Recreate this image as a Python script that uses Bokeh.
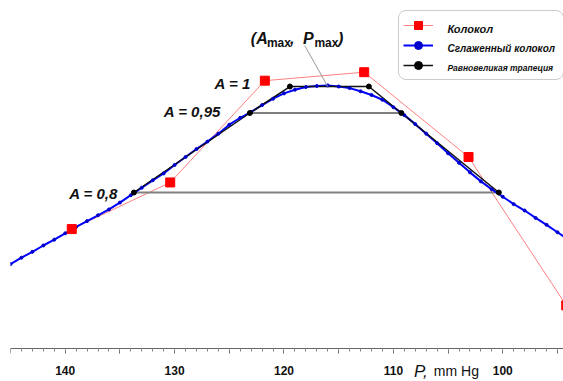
from bokeh.plotting import figure
from bokeh.models import FixedTicker, Label, Range1d
from bokeh.embed import file_html
from bokeh.resources import INLINE

# --- data (P in mm Hg, A relative amplitude) ---
bell_p = [139.4, 130.4, 121.75, 112.67, 103.13, 94.2]
bell_a = [0.731, 0.819, 1.011, 1.027, 0.867, 0.587]

smooth_p = [145, 144, 143, 142, 141, 140, 139, 138, 137, 136, 135, 134, 133,
            132, 131, 130, 129, 128, 127, 126, 125, 124, 123, 122, 121, 120,
            119, 118, 117, 116, 115, 114, 113, 112, 111, 110, 109, 108, 107,
            106, 105, 104, 103, 102, 101, 100, 99, 98, 97, 96, 95, 94]
smooth_a = [0.665, 0.677, 0.688, 0.700, 0.711, 0.723, 0.735, 0.746, 0.757,
            0.768, 0.781, 0.795, 0.809, 0.823, 0.836, 0.852, 0.867, 0.882,
            0.896, 0.911, 0.928, 0.941, 0.952, 0.965, 0.977, 0.987, 0.994,
            0.999, 1.001, 1.002, 1.000, 0.997, 0.991, 0.984, 0.975, 0.961,
            0.946, 0.929, 0.911, 0.893, 0.874, 0.856, 0.838, 0.821, 0.806,
            0.792, 0.778, 0.766, 0.752, 0.739, 0.725, 0.711]

trap_p = [133.72, 123.12, 119.46, 112.24, 109.27, 100.36]
trap_a = [0.80, 0.95, 1.00, 1.00, 0.95, 0.80]

peak_p = 116.0
peak_a = 1.0

axis_level = 0.5057

major_ticks = [145, 140, 135, 130, 125, 120, 115, 110, 105, 100, 95]
minor_ticks = list(range(94, 146))
tick_labels = {145: "", 140: "140", 135: "", 130: "130", 125: "", 120: "120",
               115: "", 110: "110", 105: "", 100: "100", 95: ""}

legend_names = ["Колокол", "Сглаженный колокол", "Равновеликая трапеция"]

FONT = "Liberation Sans"

p = figure(width=563, height=381,
           x_range=Range1d(145, 94.45), y_range=Range1d(0.4434, 1.1434),
           output_backend="svg", toolbar_location=None,
           min_border_left=10, min_border_right=0, min_border_top=10,
           min_border_bottom=0, y_axis_location=None)
p.xgrid.visible = False
p.ygrid.visible = False
p.outline_line_color = None
p.background_fill_color = "white"
p.border_fill_color = "white"

ax = p.xaxis[0]
ax.fixed_location = axis_level
ax.ticker = FixedTicker(ticks=major_ticks, minor_ticks=minor_ticks)
ax.major_label_overrides = tick_labels
ax.axis_line_color = "#666666"
ax.major_tick_line_color = "#666666"
ax.minor_tick_line_color = "#888888"
ax.major_tick_in = 0
ax.major_tick_out = 5
ax.minor_tick_in = 0
ax.minor_tick_out = 3
ax.major_label_standoff = 13
ax.major_label_text_font = FONT
ax.major_label_text_font_style = "bold"
ax.major_label_text_font_size = "12px"
ax.major_label_text_color = "#111111"

# red "bell"
p.line(bell_p, bell_a, line_color="#ff8080", line_width=1,
       legend_label=legend_names[0])

# level lines of the trapezoid
p.segment(x0=[trap_p[1], trap_p[0]], y0=[trap_a[1], trap_a[0]],
          x1=[trap_p[4], trap_p[5]], y1=[trap_a[4], trap_a[5]],
          line_color=["#000000", "#808080"], line_width=[1.2, 2])

# smoothed bell
p.line(smooth_p, smooth_a, line_color="#0000ff", line_width=2,
       legend_label=legend_names[1])

# trapezoid
p.line(trap_p, trap_a, line_color="#111111", line_width=1.5,
       legend_label=legend_names[2])
p.scatter(smooth_p, smooth_a, marker="circle", size=3, fill_color="#0000cc",
          line_color="#0000cc", legend_label=legend_names[1])
p.scatter(trap_p, trap_a, marker="circle", size=5, fill_color="#000000",
          line_color="#000000", legend_label=legend_names[2])
p.scatter(bell_p, bell_a, marker="square", size=9, fill_color="#ff0000",
          line_color="#ff0000", legend_label=legend_names[0])

# leader line to the maximum
p.segment(x0=[118.1], y0=[1.077], x1=[peak_p], y1=[peak_a],
          line_color="#999999", line_width=1)

# legend box (texts are drawn below as labels, each with its own size)
lg = p.legend[0]
lg.location = (388, 301)
lg.label_text_font = FONT
lg.label_text_font_size = "1px"
lg.label_text_alpha = 0.0
lg.label_width = 112
lg.glyph_width = 30
lg.glyph_height = 20
lg.label_height = 20
lg.label_standoff = 14
lg.spacing = 0
lg.padding = 4
lg.margin = 0
lg.border_line_color = "#999999"
lg.border_line_width = 1
lg.background_fill_alpha = 0.0
lg.border_radius = 8

def lab(x, y, text, size="15px", style="bold italic", align="left",
        baseline="middle"):
    p.add_layout(Label(x=x, y=y, text=text, text_font=FONT,
                       text_font_style=style, text_font_size=size,
                       text_align=align, text_baseline=baseline,
                       text_color="#111111"))

lab(105.06, 1.1094, legend_names[0], size="11px")
lab(105.06, 1.0717, legend_names[1], size="10px")
lab(105.06, 1.0340, legend_names[2], size="8.5px")

lab(123.03, 1.005, "A = 1", align="right")
lab(125.77, 0.953, "A = 0,95", align="right")
lab(135.18, 0.799, "A = 0,8", align="right")

# (Amax, Pmax)
lab(123.03, 1.0906, "(A", size="16px", baseline="alphabetic")
lab(121.56, 1.083, "max", size="12px", style="bold", baseline="alphabetic")
lab(119.46, 1.0906, ",", size="16px", baseline="alphabetic")
lab(118.27, 1.0906, "P", size="16px", baseline="alphabetic")
lab(117.22, 1.083, "max", size="12px", style="bold", baseline="alphabetic")
lab(115.07, 1.0906, ")", size="16px", baseline="alphabetic")

# axis title
lab(108.12, 0.4623, "P,", size="17px", style="italic", baseline="alphabetic")
lab(106.3, 0.4623, "mm Hg", size="14px", style="normal", baseline="alphabetic")

open("out.html", "w").write(file_html(p, INLINE))
